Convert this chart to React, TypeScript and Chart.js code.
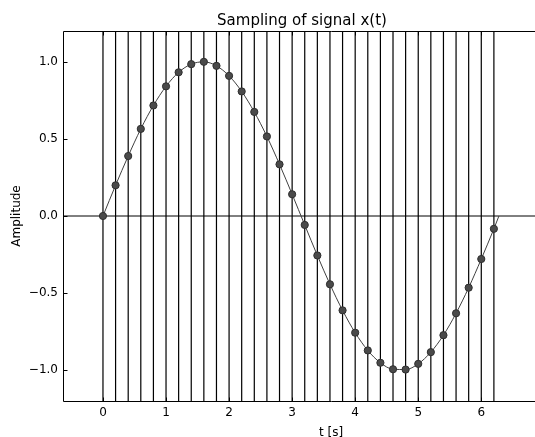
import React, { useEffect, useRef } from "react";
import { Chart, registerables } from "chart.js";

Chart.register(...registerables);

// sample instants t [s]
const sampleT = [0, 0.2, 0.4, 0.6, 0.8, 1.0, 1.2, 1.4, 1.6, 1.8, 2.0, 2.2, 2.4, 2.6, 2.8, 3.0, 3.2, 3.4, 3.6, 3.8, 4.0, 4.2, 4.4, 4.6, 4.8, 5.0, 5.2, 5.4, 5.6, 5.8, 6.0, 6.2];
// sampled amplitudes
const sampleY = [0, 0.199, 0.389, 0.565, 0.717, 0.841, 0.932, 0.985, 1.0, 0.974, 0.909, 0.808, 0.675, 0.516, 0.335, 0.141, -0.058, -0.256, -0.443, -0.612, -0.757, -0.872, -0.952, -0.994, -0.996, -0.959, -0.883, -0.773, -0.631, -0.465, -0.279, -0.083];
// end of the continuous signal
const curveEndT = [6.28];
const curveEndY = [0.0];

const xTicks = [0, 1, 2, 3, 4, 5, 6];
const yTicks = [-1.0, -0.5, 0.0, 0.5, 1.0];
const xLimits = [-0.634, 7.867];
const yLimits = [-1.2, 1.2];

const titleText = "Sampling of signal x(t)";
const xLabel = "t [s]";
const yLabel = "Amplitude";

const FONT = "'DejaVu Sans', sans-serif";

export default function App() {
  const ref = useRef<HTMLCanvasElement | null>(null);
  useEffect(() => {
    if (!ref.current) return;
    const vlines: any[] = [];
    sampleT.forEach((t) => {
      vlines.push({ x: t, y: yLimits[0] });
      vlines.push({ x: t, y: yLimits[1] });
      vlines.push({ x: t, y: null });
    });
    const curve = sampleT.map((t, i) => ({ x: t, y: sampleY[i] })).concat(curveEndT.map((t, i) => ({ x: t, y: curveEndY[i] })));
    const samples = sampleT.map((t, i) => ({ x: t, y: sampleY[i] }));

    const framePlugin = {
      id: "frame",
      afterDraw(chart: any) {
        const { ctx, chartArea } = chart;
        const xs = chart.scales.x;
        const ys = chart.scales.y;
        ctx.save();
        ctx.strokeStyle = "#000";
        ctx.lineWidth = 1;
        ctx.beginPath();
        const l = Math.round(chartArea.left) + 0.5;
        const t = Math.round(chartArea.top) + 0.5;
        const b = Math.round(chartArea.bottom) + 0.5;
        const r = Math.round(chartArea.right) + 0.5;
        ctx.moveTo(l, t); ctx.lineTo(r, t);
        ctx.moveTo(l, t); ctx.lineTo(l, b);
        ctx.moveTo(l, b); ctx.lineTo(r, b);
        yTicks.forEach((v) => {
          const py = Math.round(ys.getPixelForValue(v)) + 0.5;
          ctx.moveTo(l, py); ctx.lineTo(l + 4, py);
        });
        xTicks.forEach((v) => {
          const px = Math.round(xs.getPixelForValue(v)) + 0.5;
          ctx.moveTo(px, b); ctx.lineTo(px, b - 4);
          ctx.moveTo(px, t); ctx.lineTo(px, t + 4);
        });
        ctx.stroke();
        ctx.restore();
      },
    };

    const chart = new Chart(ref.current, {
      type: "scatter",
      data: {
        datasets: [
          {
            label: "samples",
            data: samples,
            showLine: false,
            pointRadius: 3.6,
            pointBackgroundColor: "#4a4a4a",
            pointBorderColor: "#2e2e2e",
            pointBorderWidth: 1,
            order: 0,
          },
          {
            label: "signal",
            data: curve,
            showLine: true,
            pointRadius: 0,
            borderColor: "#404040",
            borderWidth: 1,
            cubicInterpolationMode: "monotone",
            order: 1,
          },
          {
            label: "zero",
            data: [{ x: xLimits[0], y: 0 }, { x: xLimits[1], y: 0 }],
            showLine: true,
            pointRadius: 0,
            borderColor: "#000",
            borderWidth: 1,
            order: 2,
          },
          {
            label: "sampling instants",
            data: vlines,
            showLine: true,
            spanGaps: false,
            pointRadius: 0,
            borderColor: "#000",
            borderWidth: 1.2,
            order: 3,
          },
        ],
      },
      options: {
        animation: false,
        responsive: false,
        maintainAspectRatio: false,
        layout: { padding: 0 },
        plugins: {
          legend: { display: false },
          tooltip: { enabled: false },
          title: {
            display: true,
            text: titleText,
            color: "#000",
            font: { family: FONT, size: 15, weight: "normal" },
            padding: { top: 12, bottom: 1 },
          },
        },
        scales: {
          x: {
            type: "linear",
            min: xLimits[0],
            max: xLimits[1],
            afterBuildTicks: (s: any) => { s.ticks = xTicks.map((v) => ({ value: v })); },
            afterFit: (s: any) => { s.height = 36; },
            grid: { display: false, drawTicks: false },
            border: { display: false },
            ticks: {
              color: "#000",
              font: { family: FONT, size: 12 },
              padding: 5,
              maxRotation: 0,
              callback: (v: any) => String(v),
            },
            title: {
              display: true,
              text: xLabel,
              color: "#000",
              font: { family: FONT, size: 12 },
              padding: { top: 0, bottom: -3 },
            },
          },
          y: {
            type: "linear",
            min: yLimits[0],
            max: yLimits[1],
            afterBuildTicks: (s: any) => { s.ticks = yTicks.map((v) => ({ value: v })); },
            afterFit: (s: any) => { s.width = 63; },
            grid: { display: false, drawTicks: false },
            border: { display: false },
            ticks: {
              color: "#000",
              font: { family: FONT, size: 12 },
              padding: 5,
              callback: (v: any) => Number(v).toFixed(1).replace("-", "\u2212"),
            },
            title: {
              display: true,
              text: yLabel,
              color: "#000",
              font: { family: FONT, size: 12 },
              padding: { top: 10, bottom: 0 },
            },
          },
        },
      },
      plugins: [framePlugin],
    } as any);
    return () => chart.destroy();
  }, []);

  return (
    <div style={{ position: "fixed", left: 0, top: 0, width: 535, height: 437, overflow: "hidden", background: "#fff" }}>
      <canvas ref={ref} width={604} height={437} style={{ width: 604, height: 437, display: "block" }} />
    </div>
  );
}
